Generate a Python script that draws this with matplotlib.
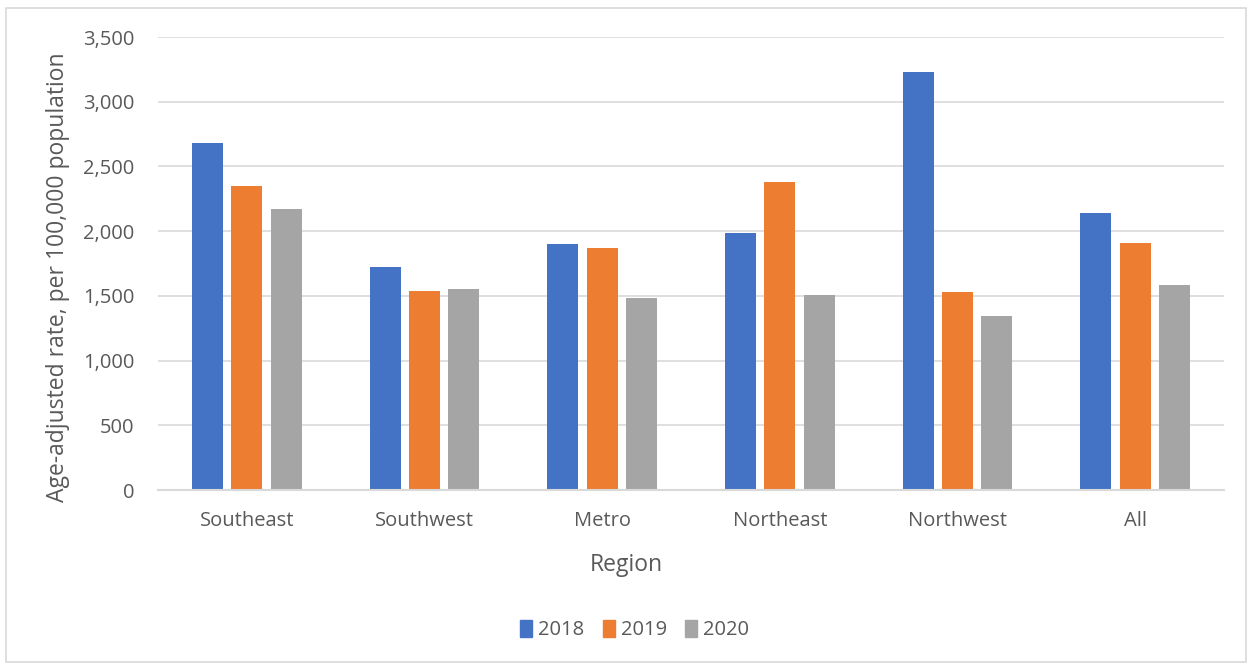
import numpy as np
import matplotlib
matplotlib.use("Agg")
import matplotlib.pyplot as plt
from matplotlib.patches import Patch, Rectangle

regions = ["Southeast", "Southwest", "Metro", "Northeast", "Northwest", "All"]
years = ["2018", "2019", "2020"]
rate_2018 = [2681, 1722, 1902, 1987, 3227, 2142]
rate_2019 = [2350, 1539, 1869, 2376, 1531, 1905]
rate_2020 = [2170, 1552, 1487, 1510, 1348, 1582]
colors = ["#4472C4", "#ED7D31", "#A5A5A5"]

plt.rcParams['font.family'] = ['Open Sans', 'DejaVu Sans']
txt = "#595959"
grid = "#D9D9D9"

W, H = 1252, 664
fig = plt.figure(figsize=(W / 100, H / 100), dpi=100)
# chart border like the spreadsheet frame
fig.patches.append(Rectangle((6 / W, 2 / H), 1240 / W, 654 / H, transform=fig.transFigure,
                             fill=False, edgecolor=grid, linewidth=1.2))

ax = fig.add_axes([158 / W, (H - 490) / H, 1066 / W, 453 / H])

x = np.arange(len(regions))
width = 0.174
step = 0.221
for i, (vals, c) in enumerate(zip([rate_2018, rate_2019, rate_2020], colors)):
    ax.bar(x + (i - 1) * step, vals, width, color=c, zorder=3)

ax.set_xlim(-0.5, len(regions) - 0.5)
ax.set_ylim(0, 3500)
ax.set_yticks(np.arange(0, 3501, 500))
ax.yaxis.set_major_formatter(matplotlib.ticker.FuncFormatter(lambda v, p: f"{int(v):,}"))
ax.grid(axis='y', color=grid, linewidth=1.2, zorder=0)
for s in ["top", "right", "left"]:
    ax.spines[s].set_visible(False)
ax.spines["bottom"].set_color(grid)
ax.spines["bottom"].set_linewidth(1.5)
ax.spines["bottom"].set_zorder(4)
ax.tick_params(axis='both', length=0, colors=txt, labelsize=14.5)
ax.tick_params(axis='y', pad=17)
ax.tick_params(axis='x', pad=15)
ax.set_xticks(x)
ax.set_xticklabels(regions)

ax.set_ylabel("Age-adjusted rate, per 100,000 population", fontsize=16.5, color=txt)
ax.yaxis.set_label_coords(-0.083, 0.47)
ax.set_xlabel("Region", fontsize=16.5, color=txt)
ax.xaxis.set_label_coords((626 - 158) / 1066, -0.14)

handles = [Patch(color=c, label=y) for c, y in zip(colors, years)]
fig.legend(handles=handles, loc="center", bbox_to_anchor=(0.507, 1 - 630 / H), ncol=3,
           frameon=False, fontsize=14.5, labelcolor=txt, handlelength=0.6, handleheight=0.9,
           handletextpad=0.3, columnspacing=0.9)

fig.savefig("out.png", dpi=100)
